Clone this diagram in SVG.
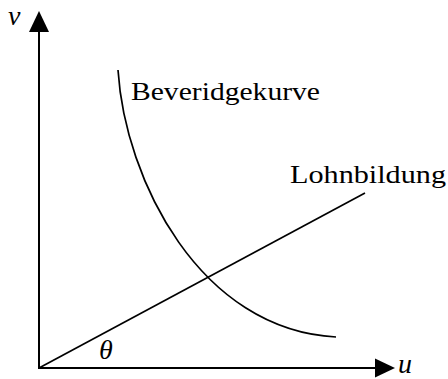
<svg xmlns="http://www.w3.org/2000/svg" width="448" height="379" viewBox="0 0 448 379">
<style>
.ln{fill:none;stroke:#000;stroke-width:2}
.cv{fill:none;stroke:#000;stroke-width:1.7}
.ah{fill:#000;stroke:none}
.lbl{font-family:"Liberation Serif",serif;font-size:26px;fill:#000}
.var{font-family:"Liberation Serif",serif;font-style:italic;font-size:28px;fill:#000}
</style>
<rect width="448" height="379" fill="#fff"/>
<g id="axes">
<line class="ln" x1="39" y1="369" x2="39" y2="30"/>
<polygon class="ah" points="39,11 29,32 49,32"/>
<line class="ln" x1="38" y1="368" x2="377" y2="368"/>
<polygon class="ah" points="395,368 375,358.5 375,377.5"/>
<text class="var" x="8" y="25">v</text>
<text class="var" x="398" y="373" font-size="25">u</text>
</g>
<g id="connectors">
<line class="cv" x1="39" y1="368" x2="365" y2="193"/>
<path class="cv" d="M118,70 C125,180 200,330 336,337"/>
</g>
<g id="beveridge">
<text class="lbl" x="131" y="100" textLength="189" lengthAdjust="spacingAndGlyphs">Beveridgekurve</text>
</g>
<g id="lohnbildung">
<text class="lbl" x="290" y="183" textLength="156" lengthAdjust="spacingAndGlyphs">Lohnbildung</text>
</g>
<g id="theta">
<text class="var" x="99" y="359">θ</text>
</g>
</svg>
